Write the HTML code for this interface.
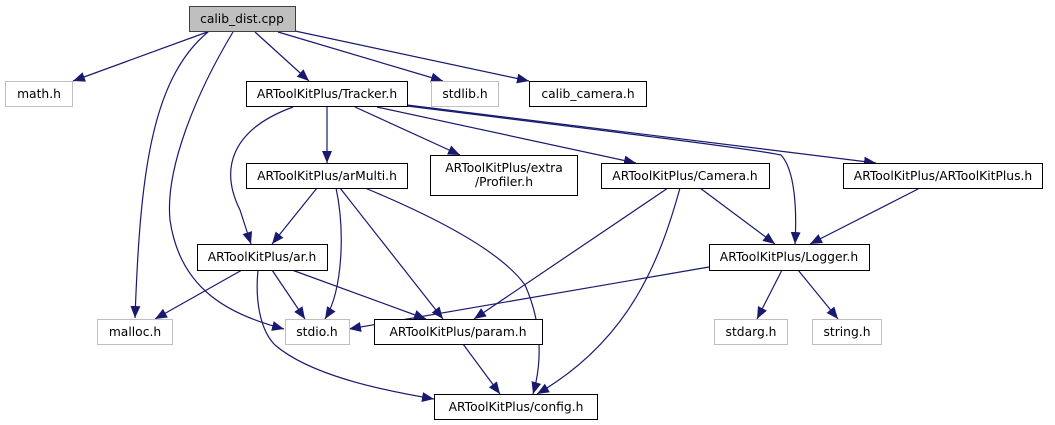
<!DOCTYPE html>
<html><head><meta charset="utf-8"><style>
html,body{margin:0;padding:0;background:#fff;}
svg{display:block;}
text{font-family:"DejaVu Sans","Liberation Sans",sans-serif;font-size:12.3px;fill:#000;}
</style></head><body>
<svg width="1055" height="425" viewBox="0 0 1055 425" xmlns="http://www.w3.org/2000/svg">
<defs>
<marker id="a" markerUnits="userSpaceOnUse" markerWidth="14" markerHeight="12" refX="12" refY="5.5" orient="auto">
<polygon points="0,0.5 12,5.5 0,10.5" fill="#191970"/>
</marker>
</defs>
<g fill="none" stroke="#191970" stroke-width="1.2" marker-end="url(#a)">
<path d="M210,31 L73,81"/>
<path d="M208,32 C150,80 140,180 135,318"/>
<path d="M233,32 C195,95 165,170 170,220 C180,290 230,315 284,329"/>
<path d="M255,32 L309,81"/>
<path d="M278,32 L443,81"/>
<path d="M295,31 L529,81"/>
<path d="M293,107 C230,130 220,170 240,210 L251,244"/>
<path d="M327,107 L327,163"/>
<path d="M355,107 L460,155"/>
<path d="M377,107 L636,163"/>
<path d="M407,106 C600,130 760,150 781,155 C795,170 797,210 795,244"/>
<path d="M407,105 L876,163"/>
<path d="M317,188 L272,244"/>
<path d="M336,188 C345,230 343,290 325,319"/>
<path d="M340,188 L443,319"/>
<path d="M365,188 C430,215 500,250 525,285 C545,330 540,370 533,394"/>
<path d="M242,270 L155,319"/>
<path d="M272,270 L305,319"/>
<path d="M292,270 L426,319"/>
<path d="M258,270 C255,300 260,330 275,345 C310,375 380,390 434,399"/>
<path d="M668,188 L474,319"/>
<path d="M680,188 C660,260 630,340 537,394"/>
<path d="M700,188 L775,244"/>
<path d="M920,188 L810,244"/>
<path d="M709,267 L349,329"/>
<path d="M782,270 L757,319"/>
<path d="M798,270 L838,319"/>
<path d="M463,344 L500,394"/>
</g>
<g stroke-width="1">
<rect x="189.5" y="6.5" width="106" height="25" fill="#bfbfbf" stroke="#404040"/>
<rect x="5.5" y="81.5" width="67" height="25" fill="#fff" stroke="#bfbfbf"/>
<rect x="246.5" y="81.5" width="161" height="25" fill="#fff" stroke="#000"/>
<rect x="431.5" y="81.5" width="67" height="25" fill="#fff" stroke="#bfbfbf"/>
<rect x="529.5" y="81.5" width="117" height="25" fill="#fff" stroke="#000"/>
<rect x="246.5" y="163.5" width="161" height="25" fill="#fff" stroke="#000"/>
<rect x="430.5" y="155.5" width="147" height="40" fill="#fff" stroke="#000"/>
<rect x="601.5" y="163.5" width="168" height="25" fill="#fff" stroke="#000"/>
<rect x="843.5" y="163.5" width="199" height="25" fill="#fff" stroke="#000"/>
<rect x="197.5" y="244.5" width="130" height="26" fill="#fff" stroke="#000"/>
<rect x="709.5" y="244.5" width="160" height="26" fill="#fff" stroke="#000"/>
<rect x="97.5" y="319.5" width="75" height="25" fill="#fff" stroke="#bfbfbf"/>
<rect x="285.5" y="319.5" width="64" height="25" fill="#fff" stroke="#bfbfbf"/>
<rect x="374.5" y="319.5" width="168" height="25" fill="#fff" stroke="#000"/>
<rect x="714.5" y="319.5" width="73" height="25" fill="#fff" stroke="#bfbfbf"/>
<rect x="812.5" y="319.5" width="69" height="25" fill="#fff" stroke="#bfbfbf"/>
<rect x="434.5" y="394.5" width="163" height="25" fill="#fff" stroke="#000"/>
</g>
<g text-anchor="middle">
<text x="242" y="23">calib_dist.cpp</text>
<text x="39" y="98">math.h</text>
<text x="327" y="98">ARToolKitPlus/Tracker.h</text>
<text x="465" y="98">stdlib.h</text>
<text x="588" y="98">calib_camera.h</text>
<text x="327" y="180">ARToolKitPlus/arMulti.h</text>
<text x="504" y="172">ARToolKitPlus/extra</text>
<text x="504" y="186">/Profiler.h</text>
<text x="685" y="180">ARToolKitPlus/Camera.h</text>
<text x="943" y="180">ARToolKitPlus/ARToolKitPlus.h</text>
<text x="262" y="261">ARToolKitPlus/ar.h</text>
<text x="789" y="261">ARToolKitPlus/Logger.h</text>
<text x="135" y="336">malloc.h</text>
<text x="317" y="336">stdio.h</text>
<text x="458" y="336">ARToolKitPlus/param.h</text>
<text x="751" y="336">stdarg.h</text>
<text x="847" y="336">string.h</text>
<text x="516" y="411">ARToolKitPlus/config.h</text>
</g>
</svg>
</body></html>
